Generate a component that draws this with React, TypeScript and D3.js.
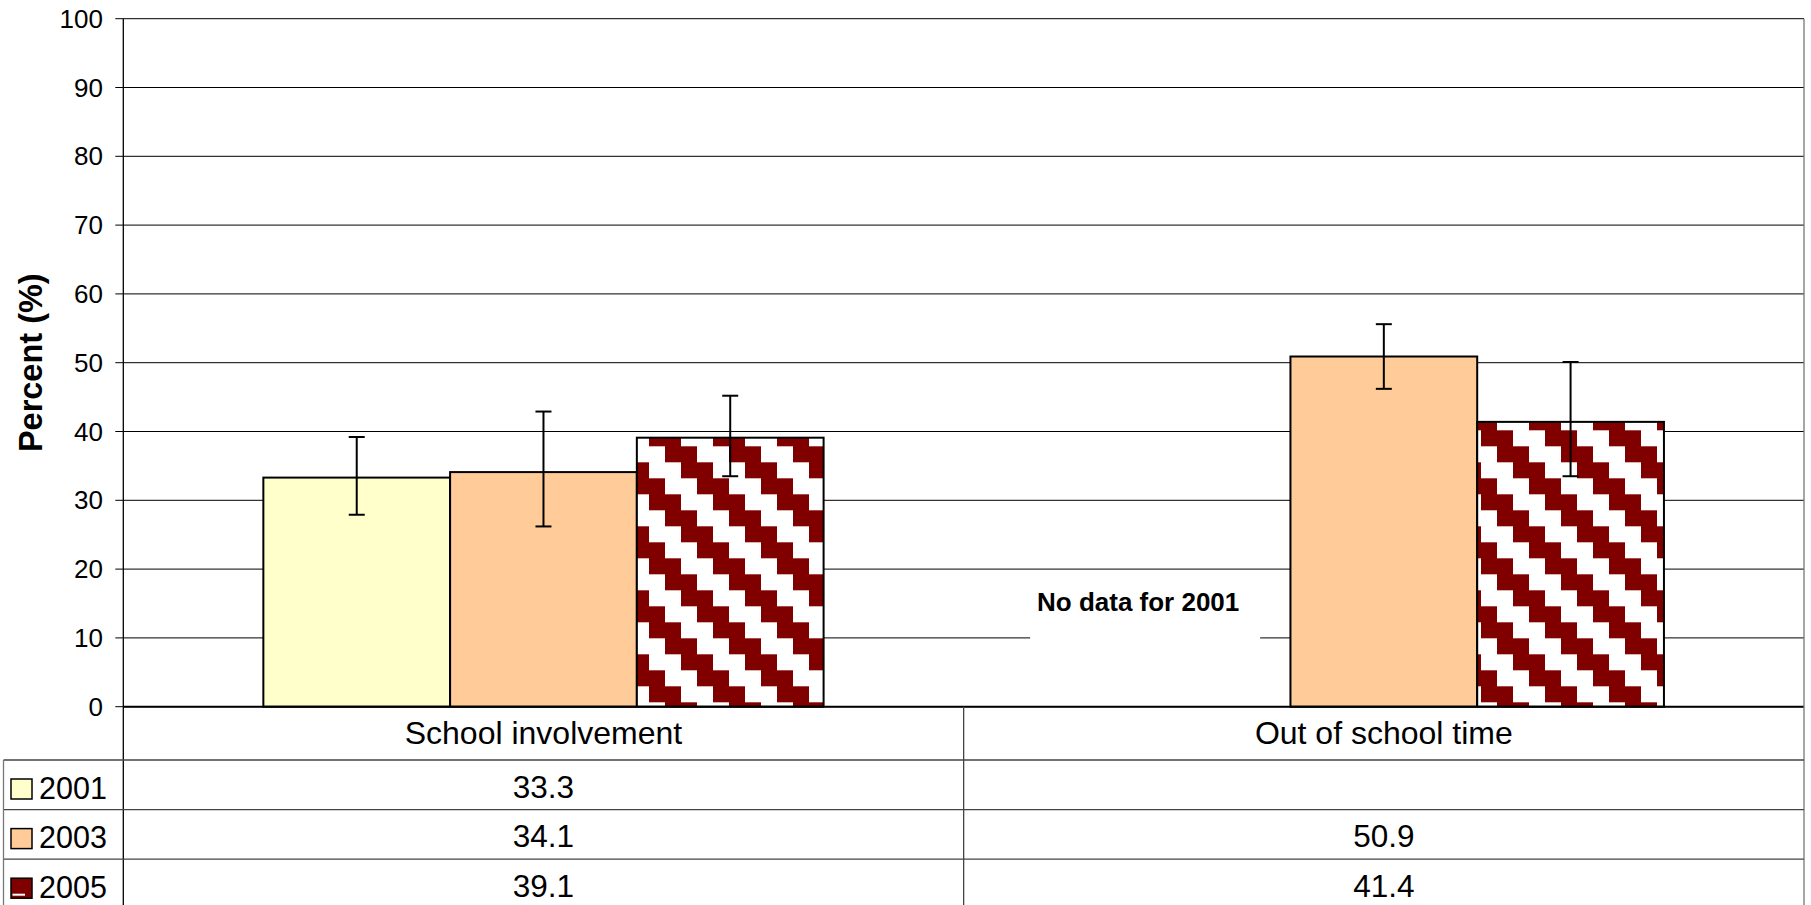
import * as d3 from "d3";

const CATEGORIES = ["School involvement", "Out of school time"];
const YEARS = ["2001", "2003", "2005"];

// bar values per year, one entry per category (null = no data)
const VALUES_2001 = [33.3, null];
const VALUES_2003 = [34.1, 50.9];
const VALUES_2005 = [39.1, 41.4];

// error bar ends
const LOW_2001 = [27.9, null];
const HIGH_2001 = [39.2, null];
const LOW_2003 = [26.2, 46.2];
const HIGH_2003 = [42.9, 55.6];
const LOW_2005 = [33.5, 33.5];
const HIGH_2005 = [45.2, 50.1];

const Y_TICKS = [0, 10, 20, 30, 40, 50, 60, 70, 80, 90, 100];
const NO_DATA_NOTE = "No data for 2001";

const COLORS: Record<string, string> = {
  "2001": "#FFFFCC",
  "2003": "#FFCC99",
  "2005": "url(#stairs)",
};

const SERIES = [
  { year: "2001", values: VALUES_2001, low: LOW_2001, high: HIGH_2001 },
  { year: "2003", values: VALUES_2003, low: LOW_2003, high: HIGH_2003 },
  { year: "2005", values: VALUES_2005, low: LOW_2005, high: HIGH_2005 },
];

const W = 1811;
const H = 905;
const FONT = "'Liberation Sans', Arial, sans-serif";

export default function App() {
  const plotLeft = 123.3;
  const plotRight = 1804;
  const plotTop = 18.7;
  const plotBottom = 706.7;
  const catRowBottom = 760;
  const rowH = 49.6;
  const tableLeft = 3.5;

  const y = d3.scaleLinear().domain([0, 100]).range([plotBottom, plotTop]);
  const xCat = d3.scaleBand<string>().domain(CATEGORIES).range([plotLeft, plotRight]).padding(0);
  const xYear = d3
    .scaleBand<string>()
    .domain(YEARS)
    .range([0, xCat.bandwidth()])
    .paddingInner(0)
    .paddingOuter(0.75);

  const rowTop = (i: number) => catRowBottom + i * rowH;
  const outerLines = "#444";

  return (
    <svg
      width={W}
      height={H}
      style={{ position: "absolute", left: 0, top: 0, background: "#fff" }}
      fontFamily={FONT}
    >
      <defs>
        <pattern id="stairs" patternUnits="userSpaceOnUse" x={665} y={446.3} width={64} height={64}>
          <rect x={0} y={0} width={64} height={64} fill="#fff" />
          <rect x={0} y={0} width={32} height={16} fill="#800000" />
          <rect x={16} y={16} width={32} height={16} fill="#800000" />
          <rect x={32} y={32} width={32} height={16} fill="#800000" />
          <rect x={48} y={48} width={16} height={16} fill="#800000" />
          <rect x={0} y={48} width={16} height={16} fill="#800000" />
        </pattern>
      </defs>

      {/* gridlines + y ticks */}
      {Y_TICKS.map((t) => (
        <g key={t}>
          <line x1={plotLeft - 8} x2={plotRight} y1={y(t)} y2={y(t)} stroke="#000" strokeWidth={1} />
          <text
            x={103}
            y={y(t)}
            textAnchor="end"
            dominantBaseline="central"
            fontSize={26}
            fill="#000"
          >
            {t}
          </text>
        </g>
      ))}

      {/* y axis title */}
      <text
        transform={`translate(42,${(plotTop + plotBottom) / 2}) rotate(-90)`}
        textAnchor="middle"
        fontSize={32.5}
        fontWeight="bold"
      >
        Percent (%)
      </text>

      {/* note for the missing series */}
      <rect
        x={xCat(CATEGORIES[1])! + 66.5}
        y={578}
        width={230}
        height={68}
        fill="#fff"
      />
      <text
        x={xCat(CATEGORIES[1])! + 174.5}
        y={611}
        textAnchor="middle"
        fontSize={26}
        fontWeight="bold"
      >
        {NO_DATA_NOTE}
      </text>

      {/* bars */}
      {SERIES.map((s) =>
        CATEGORIES.map((c, ci) => {
          const v = s.values[ci];
          if (v === null) return null;
          const x0 = xCat(c)! + xYear(s.year)!;
          return (
            <rect
              key={s.year + c}
              x={x0}
              y={y(v)}
              width={xYear.bandwidth()}
              height={plotBottom - y(v)}
              fill={COLORS[s.year]}
              stroke="#000"
              strokeWidth={2}
            />
          );
        })
      )}

      {/* error bars */}
      {SERIES.map((s) =>
        CATEGORIES.map((c, ci) => {
          const lo = s.low[ci];
          const hi = s.high[ci];
          if (lo === null || hi === null) return null;
          const cx = xCat(c)! + xYear(s.year)! + xYear.bandwidth() / 2;
          return (
            <g key={"e" + s.year + c} stroke="#000" strokeWidth={2}>
              <line x1={cx} x2={cx} y1={y(lo)} y2={y(hi)} />
              <line x1={cx - 8} x2={cx + 8} y1={y(lo)} y2={y(lo)} />
              <line x1={cx - 8} x2={cx + 8} y1={y(hi)} y2={y(hi)} />
            </g>
          );
        })
      )}

      {/* axes */}
      <line x1={plotLeft} x2={plotLeft} y1={plotTop} y2={H} stroke="#000" strokeWidth={1.3} />
      <line x1={plotLeft} x2={plotRight} y1={plotBottom} y2={plotBottom} stroke="#000" strokeWidth={2} />
      <line x1={plotRight} x2={plotRight} y1={plotTop} y2={H} stroke="#777" strokeWidth={1.3} />

      {/* data table */}
      {YEARS.map((yr, i) => (
        <line
          key={"h" + yr}
          x1={tableLeft}
          x2={plotRight}
          y1={rowTop(i)}
          y2={rowTop(i)}
          stroke={outerLines}
          strokeWidth={1.3}
        />
      ))}
      <line x1={tableLeft} x2={tableLeft} y1={catRowBottom} y2={H} stroke="#777" strokeWidth={1.3} />
      {CATEGORIES.slice(1).map((c) => (
        <line
          key={"v" + c}
          x1={xCat(c)!}
          x2={xCat(c)!}
          y1={plotBottom}
          y2={H}
          stroke={outerLines}
          strokeWidth={1.3}
        />
      ))}

      {CATEGORIES.map((c) => (
        <text key={"cl" + c} x={xCat(c)! + xCat.bandwidth() / 2} y={744.3} textAnchor="middle" fontSize={32}>
          {c}
        </text>
      ))}

      {SERIES.map((s, i) => (
        <g key={"row" + s.year}>
          <rect
            x={11}
            y={rowTop(i) + 19}
            width={21}
            height={20}
            fill={s.year === "2005" ? "#800000" : COLORS[s.year]}
            stroke="#000"
            strokeWidth={1.5}
          />
          {s.year === "2005" && (
            <rect x={12.5} y={rowTop(i) + 34.5} width={12.5} height={2} fill="#fff" />
          )}
          <text x={39} y={rowTop(i) + 38.5} fontSize={30.5}>
            {s.year}
          </text>
          {CATEGORIES.map((c, ci) =>
            s.values[ci] === null ? null : (
              <text
                key={"v" + c}
                x={xCat(c)! + xCat.bandwidth() / 2}
                y={rowTop(i) + 37.7}
                textAnchor="middle"
                fontSize={31.5}
              >
                {s.values[ci]!.toFixed(1)}
              </text>
            )
          )}
        </g>
      ))}
    </svg>
  );
}
